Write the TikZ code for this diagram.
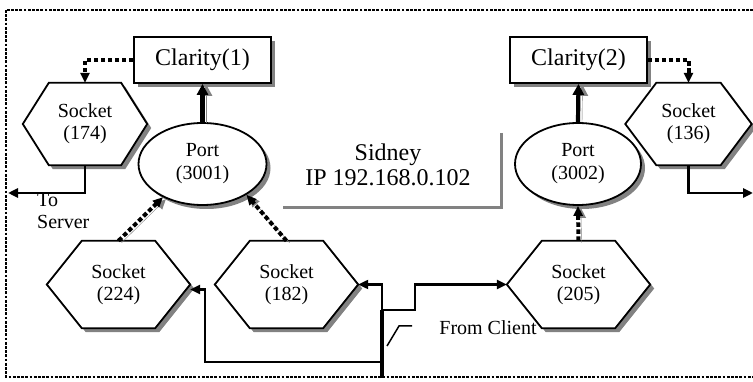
\documentclass[tikz,border=0pt]{standalone}
\usepackage{fontspec}
\setmainfont{Liberation Serif}
\usetikzlibrary{arrows.meta,calc,shadows,shapes.geometric}
\pgfdeclarelayer{bg}
\pgfsetlayers{bg,main}
\definecolor{shgray}{RGB}{130,130,130}
\newcommand\hexpath[3]{($(#1.west)+(#3,#3)$) -- ($(#1.north west)+(#2+#3,#3)$) -- ($(#1.north east)+(-#2+#3,#3)$) -- ($(#1.east)+(#3,#3)$) -- ($(#1.south east)+(-#2+#3,#3)$) -- ($(#1.south west)+(#2+#3,#3)$) -- cycle}
\begin{document}
\begin{tikzpicture}[x=1pt,y=-1pt,
  arrtip/.style={-{Triangle[length=10pt,width=9pt]}},
  clbox/.style={draw, line width=1.8pt, fill=white, minimum width=137pt, minimum height=46pt, inner sep=0,
    font=\fontsize{24}{26}\selectfont,
    drop shadow={shadow xshift=4pt, shadow yshift=-4pt, fill=shgray, opacity=1}},
  portell/.style={ellipse, draw, line width=1.8pt, fill=white, minimum width=128pt, minimum height=82pt, inner sep=0,
    align=center, font=\fontsize{20}{23}\selectfont,
    drop shadow={shadow xshift=4pt, shadow yshift=-4pt, fill=shgray, opacity=1}},
  hexnd/.style={minimum height=87pt, inner sep=0, align=center, font=\fontsize{20}{22}\selectfont},
  conn/.style={line width=2.6pt, arrtip},
  dotln/.style={line width=4pt, dash pattern=on 4.5pt off 2.5pt, arrtip},
  shdotln/.style={dotln, preaction={draw=shgray, transform canvas={shift={(3pt,-2pt)}}}},
  thickarr/.style={line width=4.2pt, -{Triangle[length=11pt,width=11pt]},
    preaction={draw=shgray, transform canvas={shift={(4pt,-1pt)}}}},
  lbl/.style={inner sep=0, font=\fontsize{20}{22}\selectfont}
]
\useasboundingbox (0,0) rectangle (753,382);

% nodes
\node[clbox] (c1) at (202.5,60) {Clarity(1)};
\node[clbox] (c2) at (578.5,60) {Clarity(2)};
\node[portell] (p1) at (202.5,164) {Port\\(3001)};
\node[portell, minimum width=126pt] (p2) at (578,164) {Port\\(3002)};
\node[hexnd, minimum width=124pt, minimum height=82pt] (s174) at (85,124) {Socket\\(174)};
\node[hexnd, minimum width=126pt, minimum height=82pt] (s136) at (688.5,124) {Socket\\(136)};
\node[hexnd, minimum width=143pt] (s224) at (118.5,284.5) {Socket\\(224)};
\node[hexnd, minimum width=143pt] (s182) at (286.5,284.5) {Socket\\(182)};
\node[hexnd, minimum width=143pt] (s205) at (578.5,284.5) {Socket\\(205)};
\node[inner sep=0, align=center, minimum width=218pt, minimum height=78pt,
  font=\fontsize{24}{25}\selectfont] (sid) at (388,165) {Sidney\\IP 192.168.0.102};
\node[lbl, align=left, anchor=west] (ts) at (37,211) {To\\Server};
\node[lbl] (fc) at (488,328) {From Client};

\begin{pgfonlayer}{bg}
  \fill[white] (0,0) rectangle (753,382);
  \draw[line width=2.8pt, dash pattern=on 2.8pt off 1.4pt] (6,10) rectangle (800,377);
  \foreach \n/\i in {s174/26, s136/31, s224/35, s182/35, s205/35} {
    \fill[shgray] \hexpath{\n}{\i}{4};
  }
  \foreach \n/\i in {s174/26, s136/31, s224/35, s182/35, s205/35} {
    \draw[line width=1.8pt, fill=white, line join=miter] \hexpath{\n}{\i}{0};
  }
\end{pgfonlayer}

% Sidney shadow
\draw[shgray, line width=3pt] ($(sid.north east)+(4,7)$) -- ($(sid.south east)+(4,3)$) -- ($(sid.south west)+(4,3)$);

% coordinates
\coordinate (srv) at (8,193);
\coordinate (rgt) at (753,193);
\coordinate (cl) at (382,378);
\coordinate (cj) at (382,310);
\coordinate (k1) at (415,310);
\coordinate (cb) at (382,362);
\coordinate (k2) at (205,362);
\coordinate (l1) at (387,346);
\coordinate (l2) at (399,326);
\coordinate (l3) at (412,326);

% connectors
\draw[thickarr] (p1.north) -- (c1.south);
\draw[thickarr] (p2.north) -- (c2.south);
\draw[dotln] (c1.west) -| (s174.north);
\draw[dotln] (c2.east) -| (s136.north);
\draw[conn] (s174.south) |- (srv);
\draw[conn] (s136.south) |- (rgt);
\draw[shdotln] (s224.north) -- (p1.-140);
\draw[shdotln] (s182.north) -- (p1.-35);
\draw[shdotln] (s205.north) -- (p2.south);
\draw[line width=4.2pt] (cl) -- (cj);
\draw[conn] (cj) -- (k1) |- (s205.west);
\draw[conn, line width=2.2pt] (cj) |- (s182.east);
\draw[conn] (cb) -- (k2) |- ([yshift=-5pt]s224.east);
\draw[line width=1.5pt] (l1) -- (l2) -- (l3);
\end{tikzpicture}
\end{document}
